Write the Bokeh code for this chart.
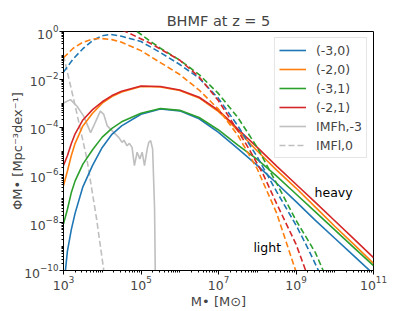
from bokeh.plotting import figure
from bokeh.models import FixedTicker, Legend, LegendItem
from bokeh.embed import file_html
from bokeh.resources import INLINE
from bokeh.core.properties import value

# ---- data (log10 values) ----
m_red_h = [3.0, 3.1, 3.2, 3.3, 3.5, 3.75, 4.0, 4.25, 4.5, 5.0, 5.5, 6.0, 6.5, 7.0, 7.2, 7.5, 8.0, 8.5, 9.0, 9.5, 10.0, 10.5, 11.0]
phi_red_h = [-5.6, -5.2, -4.7, -4.28, -3.7, -3.27, -2.94, -2.68, -2.5, -2.28, -2.3, -2.45, -2.75, -3.3, -3.6, -4.08, -4.85, -5.63, -6.39, -7.15, -7.92, -8.69, -9.46]
m_orange_h = [3.0, 3.1, 3.2, 3.3, 3.5, 3.75, 4.0, 4.25, 4.5, 5.0, 5.5, 6.0, 6.5, 7.0, 7.2, 7.5, 8.0, 8.5, 9.0, 9.5, 10.0, 10.5, 11.0]
phi_orange_h = [-6.45, -5.85, -5.2, -4.68, -3.95, -3.42, -3.0, -2.72, -2.53, -2.3, -2.32, -2.47, -2.78, -3.35, -3.65, -4.15, -5.0, -5.8, -6.55, -7.35, -8.15, -8.92, -9.7]
m_green_h = [3.0, 3.1, 3.2, 3.3, 3.5, 3.75, 4.0, 4.25, 4.5, 5.0, 5.5, 6.0, 6.5, 7.0, 7.5, 8.0, 8.5, 9.0, 9.5, 10.0, 10.5, 11.0]
phi_green_h = [-8.05, -7.45, -6.75, -6.25, -5.55, -4.95, -4.42, -4.05, -3.78, -3.42, -3.22, -3.3, -3.6, -4.12, -4.75, -5.35, -6.05, -6.8, -7.55, -8.3, -9.05, -9.8]
m_blue_h = [3.05, 3.1, 3.2, 3.3, 3.5, 3.75, 4.0, 4.25, 4.5, 5.0, 5.5, 6.0, 6.5, 7.0, 7.5, 8.0, 8.5, 9.0, 9.5, 10.0, 10.5, 11.0]
phi_blue_h = [-10.0, -9.2, -8.3, -7.6, -6.5, -5.6, -4.85, -4.3, -3.95, -3.46, -3.24, -3.32, -3.65, -4.22, -4.9, -5.6, -6.35, -7.12, -7.9, -8.65, -9.4, -10.15]

m_blue_l = [3.0, 3.25, 3.5, 3.75, 4.0, 4.2, 4.5, 5.0, 5.5, 6.0, 6.5, 7.0, 7.5, 8.0, 8.26, 8.5, 9.0, 9.3, 9.58, 9.7]
phi_blue_l = [-1.7, -1.15, -0.72, -0.38, -0.18, -0.12, -0.2, -0.42, -0.88, -1.38, -1.95, -2.8, -3.95, -5.25, -6.0, -6.7, -8.1, -9.05, -10.0, -10.45]
m_orange_l = [3.0, 3.25, 3.5, 3.75, 3.95, 4.25, 4.5, 5.0, 5.5, 6.0, 6.5, 7.0, 7.5, 8.0, 8.5, 8.99, 9.1]
phi_orange_l = [-1.1, -0.7, -0.45, -0.32, -0.29, -0.34, -0.45, -0.8, -1.3, -1.8, -2.45, -3.25, -4.35, -5.75, -7.6, -10.0, -10.6]
m_red_l = [4.3, 4.6, 5.25, 6.0, 6.5, 7.0, 7.2, 7.5, 7.8, 8.16, 8.5, 9.0, 9.25, 9.35]
phi_red_l = [0.2, 0.0, -0.5, -1.2, -1.9, -2.9, -3.4, -4.15, -4.95, -6.0, -7.2, -8.9, -10.0, -10.5]
m_green_l = [4.7, 4.9, 5.25, 5.5, 6.0, 6.5, 7.0, 7.5, 8.0, 8.38, 8.5, 9.0, 9.5, 9.7, 9.8]
phi_green_l = [0.2, 0.0, -0.42, -0.7, -1.2, -1.8, -2.6, -3.6, -4.85, -6.0, -6.35, -7.9, -9.25, -10.0, -10.45]

m_imfh = [3.0, 3.18, 3.35, 3.52, 3.7, 3.78, 3.95, 4.04, 4.13, 4.3, 4.43, 4.51, 4.56, 4.64, 4.7, 4.77, 4.83, 4.9, 4.97, 5.03, 5.09, 5.16, 5.2, 5.25, 5.3, 5.35, 5.37]
phi_imfh = [-2.99, -2.85, -3.13, -3.54, -4.23, -3.95, -3.33, -3.47, -3.95, -4.23, -4.44, -4.64, -4.55, -4.78, -4.68, -4.85, -5.61, -5.05, -5.33, -5.05, -5.61, -4.92, -4.64, -4.57, -4.92, -7.4, -10.3]
m_imfl = [3.0, 3.3, 3.6, 3.85, 4.04, 4.1]
phi_imfl = [-1.0, -3.1, -5.3, -7.8, -10.0, -10.6]

labels = ["(-3,0)", "(-2,0)", "(-3,1)", "(-2,1)", "IMFh,-3", "IMFl,0"]
colors = ["#1f77b4", "#ff7f0e", "#2ca02c", "#d62728"]
gray = "#bfbfbf"

FONT = "DejaVu Sans"

def pw(a):
    return [10.0 ** v for v in a]

p = figure(width=415, height=311, x_axis_type="log", y_axis_type="log",
           x_range=(1e3, 1e11), y_range=(1e-10, 1.0),
           output_backend="svg", toolbar_location=None,
           min_border_left=63, min_border_right=42, min_border_top=31, min_border_bottom=38)

p.title.text = "BHMF at z = 5"
p.title.align = "center"
p.title.text_font = FONT
p.title.text_font_size = "14.5px"
p.title.text_font_style = "normal"
p.title.offset = 0
p.title.standoff = 5

p.xgrid.visible = False
p.ygrid.visible = False
p.outline_line_color = "black"
p.outline_line_width = 1
p.background_fill_color = "white"
p.border_fill_color = "white"

heavy = [(m_blue_h, phi_blue_h), (m_orange_h, phi_orange_h), (m_green_h, phi_green_h), (m_red_h, phi_red_h)]
light = [(m_blue_l, phi_blue_l), (m_orange_l, phi_orange_l), (m_green_l, phi_green_l), (m_red_l, phi_red_l)]

r_imfh = p.line(pw(m_imfh), pw(phi_imfh), line_color=gray, line_width=1.6)
r_imfl = p.line(pw(m_imfl), pw(phi_imfl), line_color=gray, line_width=1.6, line_dash="6 3")

rs = []
for (m, f), c in zip(heavy, colors):
    rs.append(p.line(pw(m), pw(f), line_color=c, line_width=1.6))
for (m, f), c in zip(light, colors):
    p.line(pw(m), pw(f), line_color=c, line_width=1.6, line_dash="6 3")

p.text(x=[10 ** 9.48], y=[10 ** -6.72], text=["heavy"], text_font=value(FONT),
       text_font_size="12.5px", text_align="left", text_baseline="alphabetic", text_color="black")
p.text(x=[10 ** 7.9], y=[10 ** -9.02], text=["light"], text_font=value(FONT),
       text_font_size="12.5px", text_align="left", text_baseline="alphabetic", text_color="black")

items = [LegendItem(label=labels[i], renderers=[rs[i]]) for i in range(4)]
items.append(LegendItem(label=labels[4], renderers=[r_imfh]))
items.append(LegendItem(label=labels[5], renderers=[r_imfl]))
leg = Legend(items=items, location="top_right")
leg.label_text_font = FONT
leg.label_text_font_size = "12.5px"
leg.glyph_width = 27
leg.glyph_height = 16
leg.label_height = 16
leg.spacing = 3
leg.padding = 4
leg.margin = 6
leg.label_standoff = 10
leg.border_line_color = "#cccccc"
leg.border_line_width = 1
leg.background_fill_alpha = 0.8
p.add_layout(leg)

xt_major = [1e3, 1e5, 1e7, 1e9, 1e11]
yt_major = [1e0, 1e-2, 1e-4, 1e-6, 1e-8, 1e-10]
x_minor = [k * 10.0 ** e for e in range(3, 11) for k in range(1, 10)] + [1e11]
y_minor = [k * 10.0 ** e for e in range(-10, 0) for k in range(1, 10)] + [1.0]

p.xaxis.ticker = FixedTicker(ticks=xt_major, minor_ticks=x_minor)
p.yaxis.ticker = FixedTicker(ticks=yt_major, minor_ticks=y_minor)
for ax in (p.xaxis, p.yaxis):
    ax.major_label_text_font = FONT
    ax.major_label_text_font_size = "12.5px"
    ax.axis_label_text_font = FONT
    ax.axis_label_text_font_size = "13px"
    ax.axis_label_text_font_style = "normal"
    ax.major_tick_out = 4
    ax.major_tick_in = 0
    ax.minor_tick_out = 2
    ax.minor_tick_in = 0
    ax.axis_line_color = "black"
    ax.major_tick_line_color = "black"
    ax.minor_tick_line_color = "black"
    ax.major_label_standoff = 1

p.xaxis.axis_label_standoff = 1
p.yaxis.axis_label_standoff = -4

p.xaxis.axis_label = "M• [M⊙]"
p.yaxis.axis_label = "ΦM• [Mpc⁻³dex⁻¹]"

open("out.html", "w").write(file_html(p, INLINE))
